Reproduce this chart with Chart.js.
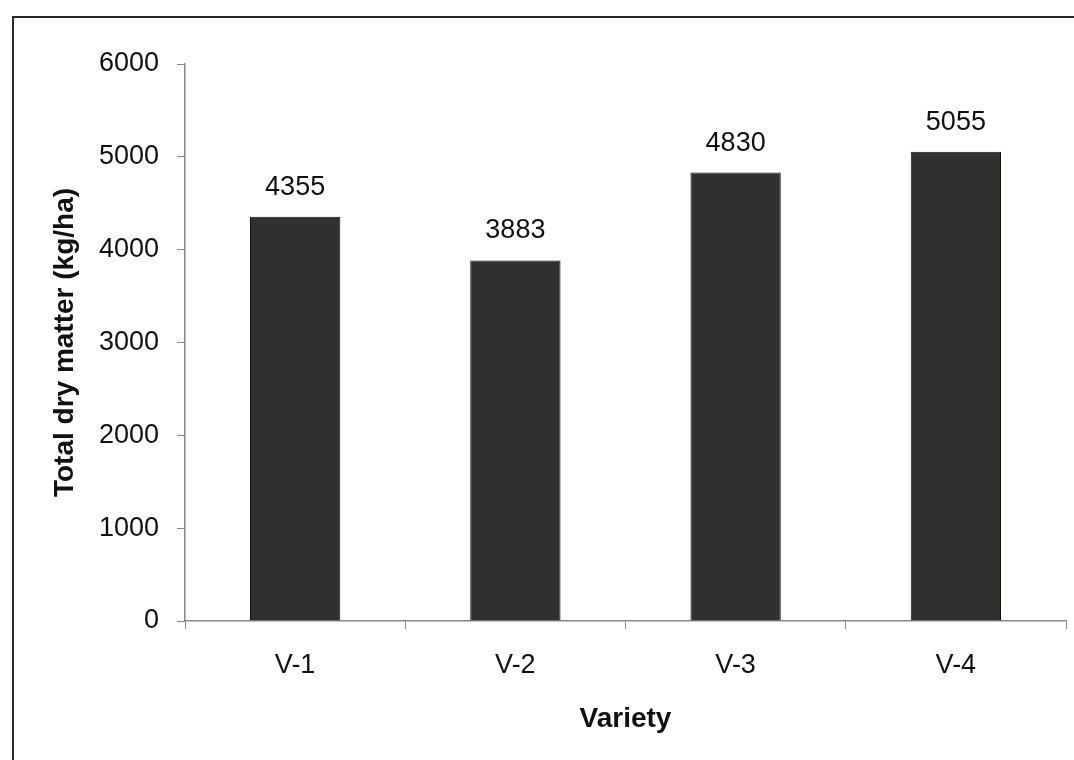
<!DOCTYPE html>
<html>
<head>
<meta charset="utf-8">
<script src="https://cdn.jsdelivr.net/npm/chart.js@4"></script>
<style>
  html, body { margin: 0; padding: 0; background: #fff; }
  #wrap { position: relative; width: 1074px; height: 760px; overflow: hidden; }
  #frame { position: absolute; left: 12px; top: 16px; right: -10px; bottom: -10px;
           border-top: 2px solid #2a2a2a; border-left: 2px solid #2a2a2a; }
  canvas { position: absolute; left: 0; top: 0; }
</style>
</head>
<body>
<div id="wrap">
  <div id="frame"></div>
  <canvas id="chart" width="1074" height="760"></canvas>
</div>
<script>
// ------------ Data ------------
const varieties = ["V-1", "V-2", "V-3", "V-4"];
const dryMatter = [4355, 3883, 4830, 5055];
const yTicks = [0, 1000, 2000, 3000, 4000, 5000, 6000];

const FONT = "'Liberation Sans', Arial, sans-serif";

// value labels above bars
const barLabels = {
  id: "barLabels",
  afterDatasetsDraw(chart) {
    const ctx = chart.ctx;
    const meta = chart.getDatasetMeta(0);
    ctx.save();
    ctx.font = "27px " + FONT;
    ctx.fillStyle = "#111";
    ctx.textAlign = "center";
    ctx.textBaseline = "bottom";
    meta.data.forEach((bar, i) => {
      ctx.fillText(String(dryMatter[i]), bar.x, bar.y - 16);
    });
    ctx.restore();
  }
};

new Chart(document.getElementById("chart"), {
  type: "bar",
  data: {
    labels: varieties,
    datasets: [{
      data: dryMatter,
      backgroundColor: "#2e312e",
      borderColor: "#111",
      borderWidth: 1,
      categoryPercentage: 0.82,
      barPercentage: 0.5
    }]
  },
  options: {
    responsive: false,
    animation: false,
    layout: { padding: { left: 44, top: 64, right: 8, bottom: 20 } },
    plugins: { legend: { display: false }, tooltip: { enabled: false } },
    scales: {
      x: {
        grid: { drawOnChartArea: false, drawTicks: true, tickLength: 8, color: "#888", offset: true },
        border: { color: "#888", width: 1.5 },
        ticks: { color: "#111", font: { family: FONT, size: 27 }, padding: 20 },
        title: { display: true, text: "Variety", color: "#111",
                 font: { family: FONT, size: 28, weight: "bold" }, padding: { top: 6 } },
        afterFit(scale) { scale.height = 760 - 621 - 20; }
      },
      y: {
        min: 0, max: 6000,
        afterBuildTicks(scale) { scale.ticks = yTicks.map(v => ({ value: v })); },
        grid: { drawOnChartArea: false, drawTicks: true, tickLength: 8, color: "#888" },
        border: { color: "#888", width: 1.5 },
        ticks: { color: "#111", font: { family: FONT, size: 27 }, padding: 18,
                 callback: v => String(v) },
        title: { display: true, text: "Total dry matter (kg/ha)", color: "#111",
                 font: { family: FONT, size: 28, weight: "bold" }, padding: { top: 4, bottom: 8 } },
        afterFit(scale) { scale.width = 185 - 44; }
      }
    }
  },
  plugins: [barLabels]
});
</script>
</body>
</html>
